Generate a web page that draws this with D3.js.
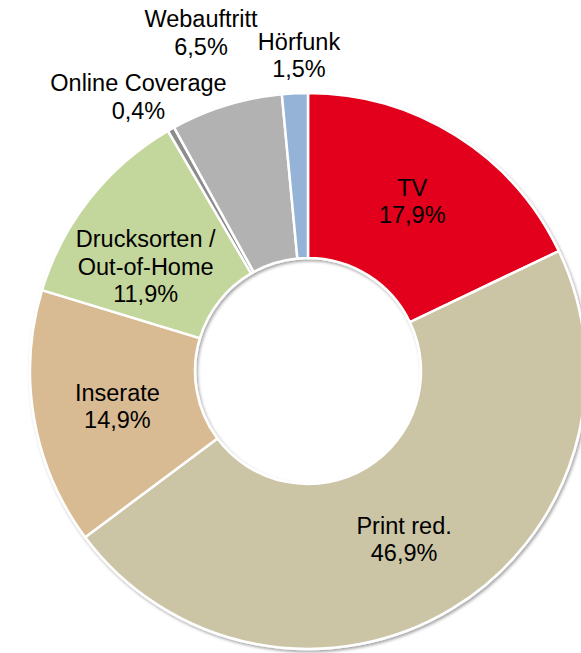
<!DOCTYPE html>
<html lang="de">
<head>
  <meta charset="UTF-8">
  <title>Donut</title>
  <script src="https://d3js.org/d3.v7.min.js"></script>
  <style>
    html, body { margin: 0; padding: 0; background: #fff; }
    text { font-family: "Liberation Sans", Arial, sans-serif; font-size: 23.5px; fill: #000; }
  </style>
</head>
<body>
  <svg id="chart"></svg>
  <script>
    // data, clockwise from 12 o'clock
    const categories = ["TV", "Print red.", "Inserate", "Drucksorten / Out-of-Home", "Online Coverage", "Webauftritt", "Hörfunk"];
    const shares = [17.9, 46.9, 14.9, 11.9, 0.4, 6.5, 1.5];
    const labelLines = [["TV"], ["Print red."], ["Inserate"], ["Drucksorten /", "Out-of-Home"], ["Online Coverage"], ["Webauftritt"], ["Hörfunk"]];
    const colors = ["#E2001A", "#CBC5A6", "#D9BB93", "#C3D69B", "#8C8C8C", "#B2B2B2", "#95B3D7"];

    const width = 581, height = 653;
    const cx = 308, cy = 371;
    const outerR = 278, innerR = 113;
    const lineH = 27.5;

    // labels outside the ring for the thin slices
    const outside = { "Online Coverage": true, "Webauftritt": true, "Hörfunk": true };
    const nudge = {
      "TV": [0, -4], "Print red.": [-5, 1], "Inserate": [2, 2], "Drucksorten / Out-of-Home": [-9, 17],
      "Webauftritt": [-7, -13], "Hörfunk": [7, 24], "Online Coverage": [-2, 22]
    };

    const data = categories.map((c, i) => ({ name: c, value: shares[i], lines: labelLines[i], color: colors[i] }));

    const svg = d3.select("#chart").attr("width", width).attr("height", height);

    const defs = svg.append("defs");
    defs.append("filter").attr("id", "shadow")
      .attr("x", "-10%").attr("y", "-10%").attr("width", "120%").attr("height", "120%")
      .append("feDropShadow")
      .attr("dx", 1.5).attr("dy", 2).attr("stdDeviation", 1.6)
      .attr("flood-color", "#000").attr("flood-opacity", 0.35);

    const g = svg.append("g").attr("transform", `translate(${cx},${cy})`);

    const pie = d3.pie().value(d => d.value).sort(null);
    const arc = d3.arc().innerRadius(innerR).outerRadius(outerR);
    const labelArc = d3.arc().innerRadius(340).outerRadius(340);
    const arcs = pie(data);

    g.append("g").attr("filter", "url(#shadow)")
      .selectAll("path")
      .data(arcs)
      .join("path")
      .attr("d", arc)
      .attr("fill", d => d.data.color)
      .attr("stroke", "#fff")
      .attr("stroke-width", 2.5)
      .attr("stroke-linejoin", "miter");

    const fmt = v => d3.format(".1f")(v).replace(".", ",") + "%";

    g.append("g").selectAll("text")
      .data(arcs)
      .join("text")
      .attr("text-anchor", "middle")
      .each(function (d) {
        const p = (outside[d.data.name] ? labelArc : arc).centroid(d);
        const n = nudge[d.data.name] || [0, 0];
        const lines = d.data.lines.concat([fmt(d.data.value)]);
        const x = p[0] + n[0];
        const y0 = p[1] + n[1] - (lines.length - 1) * lineH / 2 + 8;
        const t = d3.select(this);
        lines.forEach((l, i) => {
          t.append("tspan").attr("x", x).attr("y", y0 + i * lineH).text(l);
        });
      });
  </script>
</body>
</html>
